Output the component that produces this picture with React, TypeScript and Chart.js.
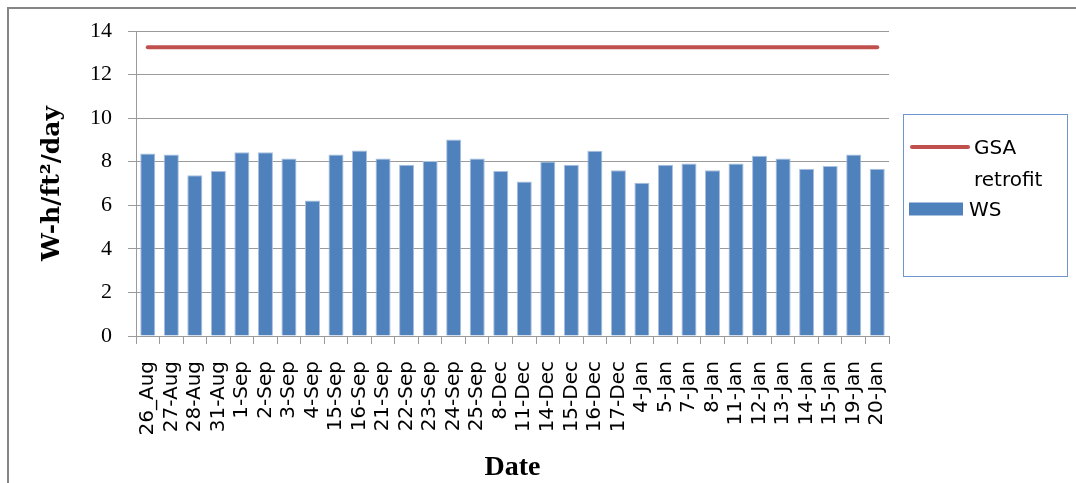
import React, { useEffect, useRef } from "react";
import { Chart, registerables } from "chart.js";

Chart.register(...registerables);

// Measurement days
const dates = [
  "26_Aug", "27-Aug", "28-Aug", "31-Aug", "1-Sep", "2-Sep", "3-Sep", "4-Sep",
  "15-Sep", "16-Sep", "21-Sep", "22-Sep", "23-Sep", "24-Sep", "25-Sep", "8-Dec",
  "11-Dec", "14-Dec", "15-Dec", "16-Dec", "17-Dec", "4-Jan", "5-Jan", "7-Jan",
  "8-Jan", "11-Jan", "12-Jan", "13-Jan", "14-Jan", "15-Jan", "19-Jan", "20-Jan",
];

// Daily lighting energy of the WS fixtures, W-h/ft²/day
const wsValues = [
  8.38, 8.33, 7.38, 7.57, 8.44, 8.44, 8.15, 6.22,
  8.33, 8.52, 8.15, 7.86, 8.03, 9.02, 8.15, 7.57,
  7.09, 8.01, 7.86, 8.5, 7.61, 7.03, 7.86, 7.92,
  7.61, 7.92, 8.27, 8.15, 7.68, 7.8, 8.33, 7.68,
];

// GSA retrofit reference level, one value per day
const gsaRetrofit = [
  13.25, 13.25, 13.25, 13.25, 13.25, 13.25, 13.25, 13.25,
  13.25, 13.25, 13.25, 13.25, 13.25, 13.25, 13.25, 13.25,
  13.25, 13.25, 13.25, 13.25, 13.25, 13.25, 13.25, 13.25,
  13.25, 13.25, 13.25, 13.25, 13.25, 13.25, 13.25, 13.25,
];

const yTickValues = [0, 2, 4, 6, 8, 10, 12, 14];

const BLUE = "#4F81BD";
const RED = "#C0504D";
const GRID = "#9a9a9a";

// White background plus the outer chart frame (left and top edges)
const framePlugin = {
  id: "frame",
  beforeDraw(chart: any) {
    const { ctx, width, height } = chart;
    ctx.save();
    ctx.fillStyle = "#ffffff";
    ctx.fillRect(0, 0, width, height);
    ctx.strokeStyle = "#868686";
    ctx.lineWidth = 2;
    ctx.beginPath();
    ctx.moveTo(8, height + 5);
    ctx.lineTo(8, 8);
    ctx.lineTo(width + 5, 8);
    ctx.stroke();
    ctx.restore();
  },
};

// Boxed legend on the right, with word-wrapped labels
const boxLegendPlugin = {
  id: "boxLegend",
  afterDraw(chart: any) {
    const { ctx } = chart;
    const box = { x: 903, y: 114, w: 164, h: 162 };
    ctx.save();
    ctx.strokeStyle = "#6f96cc";
    ctx.lineWidth = 1;
    ctx.strokeRect(box.x + 0.5, box.y + 0.5, box.w, box.h);

    ctx.font = '20px "DejaVu Sans"';
    ctx.fillStyle = "#000000";
    ctx.textAlign = "left";
    ctx.textBaseline = "alphabetic";

    const lineGap = 32;
    const entryGap = 30;
    let baseline = 154;
    chart.data.datasets.forEach((ds: any) => {
      const isLine = ds.type === "line";
      const textX = isLine ? 974 : 969;
      const maxW = box.x + box.w - textX - 4;
      // wrap label into lines that fit the box
      const words = String(ds.label).split(" ");
      const lines: string[] = [];
      let cur = "";
      words.forEach((w) => {
        const test = cur ? cur + " " + w : w;
        if (cur && ctx.measureText(test).width > maxW) {
          lines.push(cur);
          cur = w;
        } else {
          cur = test;
        }
      });
      if (cur) lines.push(cur);

      const mid = baseline - 7;
      if (isLine) {
        ctx.strokeStyle = ds.borderColor;
        ctx.lineWidth = 4;
        ctx.lineCap = "round";
        ctx.beginPath();
        ctx.moveTo(912, mid);
        ctx.lineTo(968, mid);
        ctx.stroke();
      } else {
        ctx.fillStyle = ds.backgroundColor;
        ctx.fillRect(909, mid - 6.5, 54, 13);
        ctx.fillStyle = "#000000";
      }
      lines.forEach((ln, i) => {
        ctx.fillText(ln, textX, baseline + i * lineGap);
      });
      baseline += (lines.length - 1) * lineGap + entryGap;
    });
    ctx.restore();
  },
};

export default function App() {
  const canvasRef = useRef<HTMLCanvasElement | null>(null);

  useEffect(() => {
    const canvas = canvasRef.current;
    if (!canvas) return;

    const chart = new Chart(canvas, {
      type: "bar",
      data: {
        labels: dates,
        datasets: [
          {
            type: "line",
            label: "GSA retrofit",
            data: gsaRetrofit,
            borderColor: RED,
            backgroundColor: RED,
            borderWidth: 4,
            borderCapStyle: "round",
            pointRadius: 0,
            pointHoverRadius: 0,
            fill: false,
          } as any,
          {
            type: "bar",
            label: "WS",
            data: wsValues,
            backgroundColor: BLUE,
            borderColor: "#a9c0df",
            borderWidth: 1,
            barPercentage: 0.64,
            categoryPercentage: 1,
          },
        ],
      },
      options: {
        responsive: false,
        maintainAspectRatio: false,
        devicePixelRatio: 1,
        animation: false,
        layout: { padding: { top: 31, right: 187, bottom: 0, left: 0 } },
        plugins: {
          legend: { display: false },
          title: { display: false },
          tooltip: { enabled: false },
        },
        scales: {
          x: {
            offset: true,
            grid: {
              offset: true,
              drawOnChartArea: false,
              drawTicks: true,
              tickLength: 8,
              color: GRID,
            },
            border: { display: true, color: GRID, width: 1 },
            ticks: {
              autoSkip: false,
              minRotation: 90,
              maxRotation: 90,
              padding: 17,
              color: "#000000",
              font: { family: "DejaVu Sans", size: 20 },
            },
            title: {
              display: true,
              text: "Date",
              color: "#000000",
              font: { family: "Liberation Serif", size: 28, weight: "bold", lineHeight: 1 },
              padding: { top: 0, bottom: 1 },
            },
            afterFit(scale: any) {
              scale.height = 147;
            },
          },
          y: {
            min: 0,
            max: 14,
            afterBuildTicks(scale: any) {
              scale.ticks = yTickValues.map((v) => ({ value: v }));
            },
            grid: {
              color: GRID,
              lineWidth: 1,
              tickLength: 8,
            },
            border: { display: true, color: GRID, width: 1 },
            ticks: {
              padding: 16,
              color: "#000000",
              font: { family: "Liberation Serif", size: 22 },
            },
            title: {
              display: true,
              text: "W-h/ft²/day",
              color: "#000000",
              font: { family: "DejaVu Serif", size: 25, weight: "bold", lineHeight: 1 },
              padding: { top: 40, bottom: 0 },
            },
            afterFit(scale: any) {
              scale.width = 136;
            },
          },
        },
      },
      plugins: [framePlugin, boxLegendPlugin],
    });

    return () => chart.destroy();
  }, []);

  return (
    <canvas
      ref={canvasRef}
      width={1076}
      height={483}
      style={{ position: "absolute", left: 0, top: 0, display: "block" }}
    />
  );
}
